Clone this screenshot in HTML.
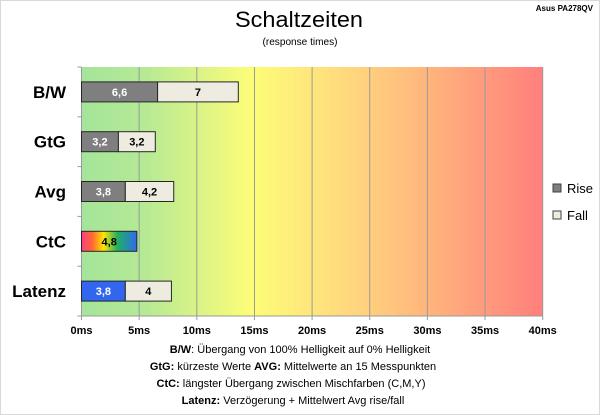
<!DOCTYPE html>
<html><head><meta charset="utf-8"><style>
html,body{margin:0;padding:0;background:#fff}
svg{display:block;font-family:"Liberation Sans",sans-serif}
</style></head><body>
<svg id="chart" width="600" height="415" viewBox="0 0 600 415" xmlns="http://www.w3.org/2000/svg">
<defs>
<linearGradient id="bg" x1="0" x2="1" y1="0" y2="0">
<stop offset="0" stop-color="#a4e59a"/>
<stop offset="0.13" stop-color="#b4e995"/>
<stop offset="0.37" stop-color="#fdfd78"/>
<stop offset="0.6" stop-color="#ffd47e"/>
<stop offset="0.8" stop-color="#ffaa7c"/>
<stop offset="1" stop-color="#ff7f7c"/>
</linearGradient>
<linearGradient id="rainbow" x1="0" x2="1" y1="0" y2="0">
<stop offset="0" stop-color="#ff3c8c"/>
<stop offset="0.2" stop-color="#ff6a30"/>
<stop offset="0.4" stop-color="#ffe600"/>
<stop offset="0.65" stop-color="#20b060"/>
<stop offset="1" stop-color="#2f6cf0"/>
</linearGradient>
</defs>
<rect x="0.5" y="0.5" width="599" height="414" fill="#fff" stroke="#d9d9d9"/>
<text x="299" y="27" font-size="22" text-anchor="middle" textLength="128" lengthAdjust="spacingAndGlyphs">Schaltzeiten</text>
<text x="300" y="45" font-size="10" text-anchor="middle" textLength="75" lengthAdjust="spacingAndGlyphs">(response times)</text>
<text x="593" y="11" font-size="8" font-weight="bold" text-anchor="end">Asus PA278QV</text>
<rect x="81.5" y="67" width="461.2" height="249" fill="url(#bg)"/>
<g id="grid"></g>
<g id="bars"></g>
<g id="labels"></g>
<g>
<rect x="553" y="184" width="8" height="8" fill="#7f7f7f" stroke="#404040"/>
<text x="567" y="193" font-size="13">Rise</text>
<rect x="553" y="211" width="8" height="8" fill="#eeece1" stroke="#404040"/>
<text x="567" y="220" font-size="13">Fall</text>
</g>
<g font-size="11" text-anchor="middle" fill="#000">
<text x="300" y="353"><tspan font-weight="bold">B/W</tspan>:  Übergang von 100% Helligkeit auf 0% Helligkeit</text>
<text x="293" y="370"><tspan font-weight="bold">GtG:</tspan> kürzeste Werte      <tspan font-weight="bold">AVG:</tspan> Mittelwerte an 15 Messpunkten</text>
<text x="291" y="387"><tspan font-weight="bold">CtC:</tspan> längster Übergang zwischen Mischfarben (C,M,Y)</text>
<text x="293" y="404"><tspan font-weight="bold">Latenz:</tspan> Verzögerung + Mittelwert Avg rise/fall</text>
</g>
</svg>
<script>
const categories = ["B/W","GtG","Avg","CtC","Latenz"];
const riseValues = [6.6,3.2,3.8,4.8,3.8];
const fallValues = [7,3.2,4.2,0,4];
const tickValues = [0,5,10,15,20,25,30,35,40];
const tickLabels = ["0ms","5ms","10ms","15ms","20ms","25ms","30ms","35ms","40ms"];

const NS="http://www.w3.org/2000/svg";
const X0=81.5,X1=542.7,Y0=67,Y1=316,XMAX=40;
const band=(Y1-Y0)/categories.length;
const x=v=>X0+v/XMAX*(X1-X0);
const yc=i=>Y0+band*i+band/2;
function mk(tag,attrs,parent){const e=document.createElementNS(NS,tag);for(const k in attrs)e.setAttribute(k,attrs[k]);parent.appendChild(e);return e;}
const grid=document.getElementById('grid'),bars=document.getElementById('bars'),labels=document.getElementById('labels');
tickValues.forEach((t,i)=>{
  if(t>0){const g=mk('line',{x1:x(t),x2:x(t),y1:Y0,y2:Y1,stroke:'#9a9a9a','stroke-width':1},grid);
  
  }
  const tk=mk('line',{x1:x(t),x2:x(t),y1:Y1,y2:Y1+4,stroke:'#9a9a9a'},grid);
  
  
  const tl=mk('text',{x:x(t),y:334,'font-size':11,'font-weight':'bold','text-anchor':'middle'},labels);
  tl.textContent=tickLabels[i];
  
  
});
const ax=mk('line',{x1:X0,x2:X0,y1:Y0,y2:Y1,stroke:'#9a9a9a'},grid);


const bx=mk('line',{x1:X0,x2:X1,y1:Y1,y2:Y1,stroke:'#9a9a9a'},grid);


for(let i=0;i<=categories.length;i++){
  const t=mk('line',{x1:X0-4,x2:X0,y1:Y0+band*i,y2:Y0+band*i,stroke:'#9a9a9a'},grid);
  
  
}
const fmt=v=>String(v).replace('.',',');
categories.forEach((c,i)=>{
  const cy=yc(i),h=20,top=cy-h/2;
  const cl=mk('text',{x:66,y:cy+6,'font-size':17,'font-weight':'bold','text-anchor':'end'},labels);
  cl.textContent=c;
  
  
  const r=riseValues[i];
  let fill='#7f7f7f',tc='#fff';
  if(c==='CtC'){fill='url(#rainbow)';tc='#000';}
  if(c==='Latenz'){fill='#3366ee';tc='#fff';}
  const rb=mk('rect',{x:x(0),y:top,width:x(r)-x(0),height:h,fill:fill,stroke:'#262626','stroke-width':1},bars);
  
  
  const rt=mk('text',{x:(x(0)+x(r))/2,y:cy+4,'font-size':11,'font-weight':'bold','text-anchor':'middle',fill:tc},labels);
  rt.textContent=fmt(r);
  
  
  const f=fallValues[i];
  if(f>0){
    const fb=mk('rect',{x:x(r),y:top,width:x(r+f)-x(r),height:h,fill:'#eeece1',stroke:'#262626','stroke-width':1},bars);
    
    
    const ft=mk('text',{x:(x(r)+x(r+f))/2,y:cy+4,'font-size':11,'font-weight':'bold','text-anchor':'middle'},labels);
    ft.textContent=fmt(f);
    
    
  }
});
</script>
</body></html>
